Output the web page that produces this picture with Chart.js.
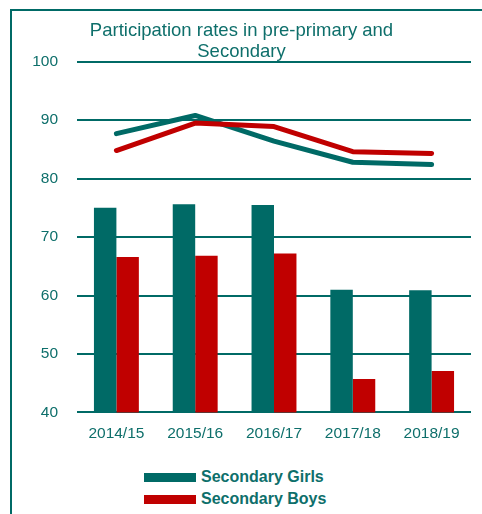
<!DOCTYPE html>
<html>
<head>
<meta charset="utf-8">
<script src="https://cdn.jsdelivr.net/npm/chart.js@4"></script>
<style>
  body { margin: 0; background: #fff; font-family: "Liberation Sans", Arial, sans-serif; overflow: hidden; }
  #frame {
    position: absolute; left: 10px; top: 9px; width: 520px; height: 560px;
    border-left: 2px solid #006a66; border-top: 2px solid #006a66;
  }
  #chart-box { position: absolute; left: 12px; top: 11px; width: 470px; height: 446px; }
  #legend { position: absolute; left: 144px; top: 466px; }
  .legend-item { display: flex; align-items: center; height: 22px; }
  .legend-item span.swatch { width: 52px; height: 9px; margin-right: 5px; }
  .legend-item span.label { color: #0e6f6b; font-weight: bold; font-size: 16px; }
</style>
</head>
<body>
<div id="frame"></div>
<div id="chart-box"><canvas id="rateChart"></canvas></div>
<div id="legend"></div>

<script>
// Data
const years = ['2014/15', '2015/16', '2016/17', '2017/18', '2018/19'];
const secondaryGirls = [75.0, 75.6, 75.5, 61.0, 60.9];
const secondaryBoys = [66.6, 66.8, 67.2, 45.7, 47.1];
const prePrimaryGirls = [87.7, 90.8, 86.4, 82.8, 82.4];
const prePrimaryBoys = [84.8, 89.5, 88.9, 84.6, 84.3];

const teal = '#006a66';
const red = '#c00000';
const textColor = '#0e6f6b';
const fontFamily = '"Liberation Sans", Arial, sans-serif';

const ctx = document.getElementById('rateChart').getContext('2d');
const rateChart = new Chart(ctx, {
    type: 'bar',
    data: {
        labels: years,
        datasets: [
            {
                type: 'line',
                label: 'Pre-primary Boys',
                data: prePrimaryBoys,
                borderColor: red,
                borderWidth: 5,
                borderCapStyle: 'round',
                borderJoinStyle: 'round',
                pointRadius: 0,
                tension: 0,
                order: 0
            },
            {
                type: 'line',
                label: 'Pre-primary Girls',
                data: prePrimaryGirls,
                borderColor: teal,
                borderWidth: 5,
                borderCapStyle: 'round',
                borderJoinStyle: 'round',
                pointRadius: 0,
                tension: 0,
                order: 1
            },
            {
                label: 'Secondary Girls',
                data: secondaryGirls,
                backgroundColor: teal,
                categoryPercentage: 0.57,
                barPercentage: 1,
                order: 2
            },
            {
                label: 'Secondary Boys',
                data: secondaryBoys,
                backgroundColor: red,
                categoryPercentage: 0.57,
                barPercentage: 1,
                order: 3
            }
        ]
    },
    options: {
        responsive: true,
        maintainAspectRatio: false,
        animation: false,
        layout: { padding: { left: 0, right: 11, top: 0, bottom: 2 } },
        plugins: {
            legend: { display: false },
            tooltip: { enabled: false },
            title: {
                display: true,
                text: ['Participation rates in pre-primary and', 'Secondary'],
                color: textColor,
                font: { family: fontFamily, size: 18.5, weight: 'normal', lineHeight: 1.1 },
                padding: { top: 10, bottom: 0 }
            }
        },
        scales: {
            x: {
                grid: { display: false, drawTicks: false },
                border: { display: false },
                ticks: {
                    color: textColor,
                    padding: 12,
                    font: { family: fontFamily, size: 15.5 }
                }
            },
            y: {
                min: 40,
                max: 100,
                afterFit: (scale) => { scale.width = 65; },
                grid: { color: teal, lineWidth: 2, drawTicks: false },
                border: { display: false },
                ticks: {
                    stepSize: 10,
                    color: textColor,
                    padding: 19,
                    font: { family: fontFamily, size: 15.5 }
                }
            }
        }
    }
});

// Legend shows only the bar series, stacked vertically
const legendEl = document.getElementById('legend');
rateChart.data.datasets
    .filter(ds => ds.type !== 'line')
    .forEach(ds => {
        const item = document.createElement('div');
        item.className = 'legend-item';
        item.innerHTML = `<span class="swatch" style="background:${ds.backgroundColor}"></span><span class="label">${ds.label}</span>`;
        legendEl.appendChild(item);
    });
</script>
</body>
</html>
